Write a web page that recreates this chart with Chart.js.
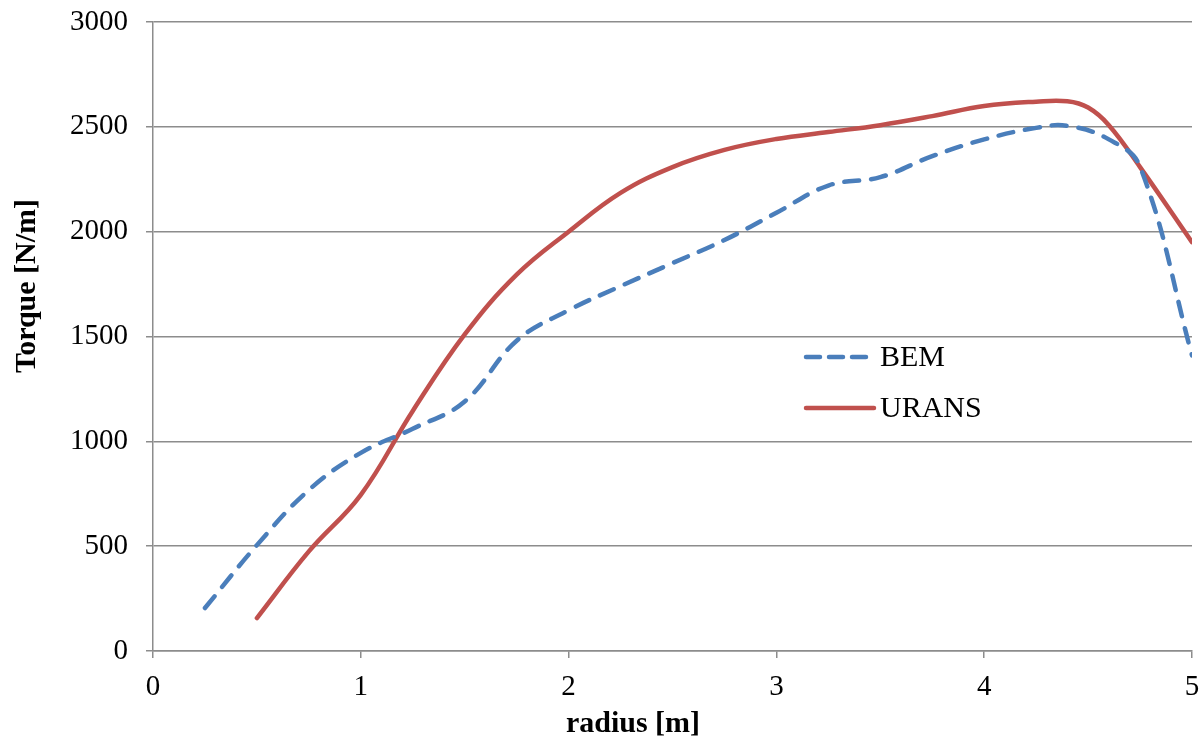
<!DOCTYPE html>
<html>
<head>
<meta charset="utf-8">
<script src="https://cdn.jsdelivr.net/npm/chart.js@4"></script>
<style>
  html, body { margin: 0; padding: 0; background: #fff; }
  #wrap { width: 1202px; height: 738px; }
</style>
</head>
<body>
<div id="wrap"><canvas id="torque-chart" width="1202" height="738"></canvas></div>
<script>
// Radius positions [m] and torque [N/m]
const bemRadius = [0.25, 0.5, 0.75, 1.0, 1.25, 1.5, 1.75, 2.0, 2.25, 2.5, 2.75, 3.0, 3.25, 3.5, 3.75, 4.0, 4.25, 4.4, 4.6, 4.75, 5.0];
const bemTorque = [205, 505, 768, 945, 1060, 1190, 1480, 1625, 1740, 1850, 1960, 2090, 2220, 2260, 2360, 2440, 2495, 2505, 2440, 2310, 1410];

const uransRadius = [0.5, 0.75, 1.0, 1.25, 1.5, 1.75, 2.0, 2.25, 2.5, 2.75, 3.0, 3.25, 3.5, 3.75, 4.0, 4.25, 4.4, 4.5, 4.6, 4.75, 5.0];
const uransTorque = [157, 475, 745, 1145, 1510, 1795, 2000, 2185, 2308, 2390, 2442, 2475, 2508, 2551, 2599, 2620, 2622, 2592, 2508, 2308, 1950];

const xTicks = [0, 1, 2, 3, 4, 5];
const yTicks = [0, 500, 1000, 1500, 2000, 2500, 3000];

const FONT = '"Liberation Serif", "Times New Roman", serif';
const GRID = '#8c8c8c';

function toPoints(xs, ys) {
    return xs.map((x, i) => ({ x: x, y: ys[i] }));
}

// Legend sits inside the plot, plus axis titles drawn on the canvas
const extrasPlugin = {
    id: 'extras',
    afterDraw(chart) {
        const c = chart.ctx;
        const sets = chart.data.datasets;
        c.save();
        // legend
        const rows = [357, 408];
        sets.forEach((ds, i) => {
            const y = rows[i];
            c.beginPath();
            c.lineWidth = ds.borderWidth;
            c.strokeStyle = ds.borderColor;
            c.lineCap = 'round';
            c.setLineDash(ds.borderDash ? [14, 9] : []);
            c.moveTo(806, y);
            c.lineTo(i === 0 ? 866 : 874, y);
            c.stroke();
            c.setLineDash([]);
            c.fillStyle = '#000';
            c.font = '30px ' + FONT;
            c.textAlign = 'left';
            c.textBaseline = 'middle';
            c.fillText(ds.label, 880, y + 1);
        });
        // axis titles
        c.fillStyle = '#000';
        c.font = 'bold 30px ' + FONT;
        c.textAlign = 'center';
        c.textBaseline = 'middle';
        c.fillText('radius [m]', 633, 724);
        c.translate(27, 286);
        c.rotate(-Math.PI / 2);
        c.fillText('Torque [N/m]', 0, 0);
        c.restore();
    }
};

const ctx = document.getElementById('torque-chart').getContext('2d');
const torqueChart = new Chart(ctx, {
    type: 'line',
    data: {
        datasets: [
            {
                label: 'BEM',
                data: toPoints(bemRadius, bemTorque),
                borderColor: '#4a7ebb',
                borderWidth: 4.5,
                borderDash: [15, 12],
                borderCapStyle: 'round',
                tension: 0.4,
                pointRadius: 0,
                fill: false
            },
            {
                label: 'URANS',
                data: toPoints(uransRadius, uransTorque),
                borderColor: '#c0504d',
                borderWidth: 4.5,
                borderCapStyle: 'round',
                tension: 0.4,
                pointRadius: 0,
                fill: false
            }
        ]
    },
    options: {
        responsive: false,
        animation: false,
        layout: { padding: { top: 22, right: 10, left: 0, bottom: 0 } },
        plugins: {
            legend: { display: false },
            tooltip: { enabled: false }
        },
        scales: {
            x: {
                type: 'linear',
                min: 0,
                max: 5,
                afterFit(scale) {
                    scale.height = 87;
                    scale.paddingLeft = 0;
                    scale.paddingRight = 0;
                },
                afterBuildTicks(scale) { scale.ticks = xTicks.map(v => ({ value: v })); },
                grid: { drawOnChartArea: false, drawTicks: true, tickLength: 7, color: GRID, lineWidth: 1.5 },
                border: { color: GRID, width: 1.5 },
                ticks: { color: '#000', font: { family: FONT, size: 29 }, padding: 12, maxRotation: 0,
                         callback: v => String(v) }
            },
            y: {
                min: 0,
                max: 3000,
                afterFit(scale) {
                    scale.width = 153;
                    scale.paddingTop = 0;
                    scale.paddingBottom = 0;
                },
                afterBuildTicks(scale) { scale.ticks = yTicks.map(v => ({ value: v })); },
                grid: { drawTicks: true, tickLength: 7, color: GRID, lineWidth: 1.5 },
                border: { color: GRID, width: 1.5 },
                ticks: { color: '#000', font: { family: FONT, size: 29 }, padding: 18,
                         callback: v => String(v) }
            }
        }
    },
    plugins: [extrasPlugin]
});
</script>
</body>
</html>
